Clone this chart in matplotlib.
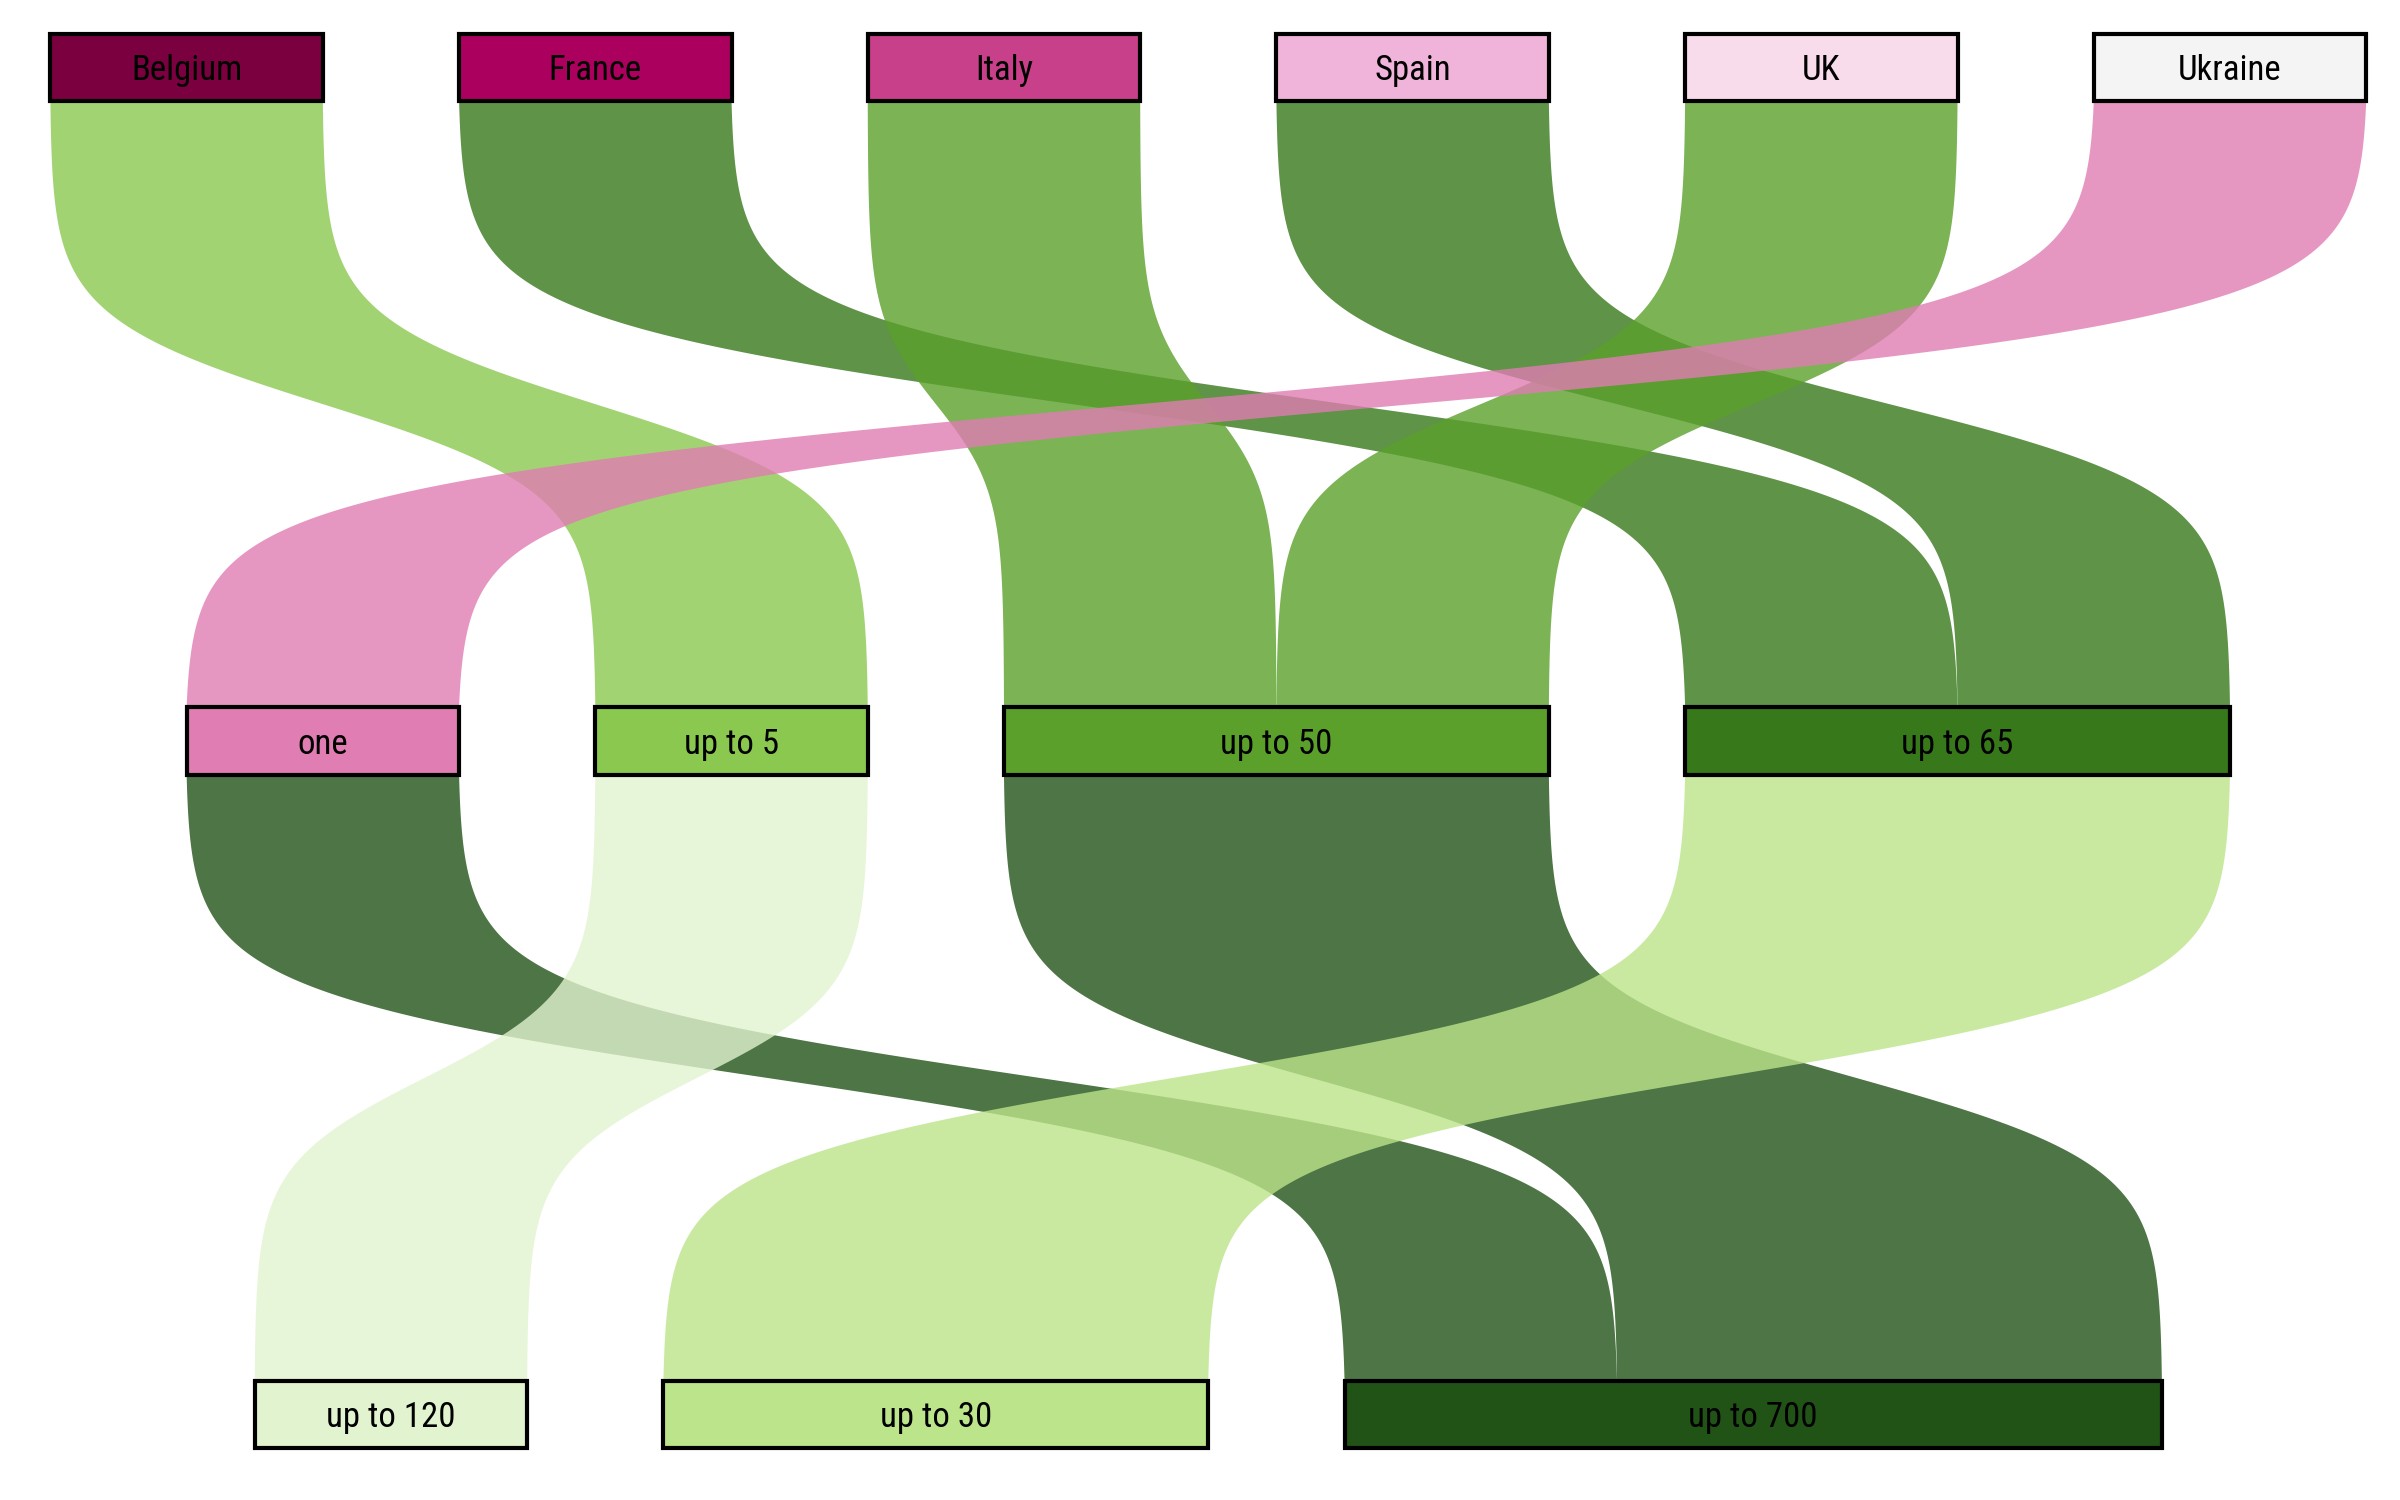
import numpy as np
import matplotlib
matplotlib.use("Agg")
import matplotlib.pyplot as plt
from matplotlib import font_manager
from matplotlib.patches import Rectangle, Polygon

# pick a condensed face if one is installed, plain Roboto otherwise
fonts = font_manager.fontManager.ttflist
if any(f.name == 'Roboto Condensed' for f in fonts):
    label_font = dict(family=['Roboto Condensed', 'DejaVu Sans'], fontsize=25)
elif any(f.name == 'Roboto' and 'condensed' in str(f.stretch) for f in fonts):
    label_font = dict(family=['Roboto', 'DejaVu Sans'], fontstretch='condensed', fontsize=25)
else:
    label_font = dict(family=['Roboto', 'DejaVu Sans'], fontsize=23)

# --- data: one row per country ---
countries = ['Belgium', 'France', 'Italy', 'Spain', 'UK', 'Ukraine']
size_class = ['up to 5', 'up to 65', 'up to 50', 'up to 65', 'up to 50', 'one']
group = ['up to 120', 'up to 30', 'up to 700', 'up to 30', 'up to 700', 'up to 700']

level_nodes = [
    ['Belgium', 'France', 'Italy', 'Spain', 'UK', 'Ukraine'],
    ['one', 'up to 5', 'up to 50', 'up to 65'],
    ['up to 120', 'up to 30', 'up to 700'],
]
columns = [countries, size_class, group]

node_colors = {
    'Belgium': '#7a0040', 'France': '#ac005f', 'Italy': '#c83f8a',
    'Spain': '#f0b3d9', 'UK': '#f9dcec', 'Ukraine': '#f4f4f4',
    'one': '#e07db2', 'up to 5': '#8bc84f', 'up to 50': '#5aa02b',
    'up to 65': '#37781a',
    'up to 120': '#e2f3cf', 'up to 30': '#bce48a', 'up to 700': '#215216',
}

GAP = 0.5        # gap between nodes, in flow units
BOX_H = 0.1      # box height, in level units
STEEP = 14       # steepness of the sigmoid ribbons
ALPHA = 0.8

fig = plt.figure(figsize=(24, 15), dpi=100)
ax = fig.add_axes([0, 0, 1, 1])
ax.axis('off')

# --- node layout: width = count, levels centred on the widest one ---
widths = []
for lev, nodes in enumerate(level_nodes):
    widths.append({n: columns[lev].count(n) for n in nodes})
totals = [sum(w.values()) + GAP * (len(w) - 1) for w in widths]
center = max(totals) / 2

pos = []
for lev, nodes in enumerate(level_nodes):
    x = center - totals[lev] / 2
    p = {}
    for n in nodes:
        p[n] = x
        x += widths[lev][n] + GAP
    pos.append(p)

# normalised logistic curve, 0 -> 1
f = np.linspace(0, 1, 400)
sig = 1 / (1 + np.exp(-STEEP * (f - 0.5)))
sig = (sig - sig[0]) / (sig[-1] - sig[0])

# --- ribbons between consecutive levels ---
for lev in range(len(level_nodes) - 1):
    src_nodes, dst_nodes = level_nodes[lev], level_nodes[lev + 1]
    flows = {}
    for a, b in zip(columns[lev], columns[lev + 1]):
        flows[(a, b)] = flows.get((a, b), 0) + 1
    keys = sorted(flows, key=lambda k: (src_nodes.index(k[0]), dst_nodes.index(k[1])))
    src_off = {n: pos[lev][n] for n in src_nodes}
    # incoming order: by source position
    in_keys = sorted(flows, key=lambda k: (dst_nodes.index(k[1]), src_nodes.index(k[0])))
    dst_start = {}
    dst_off = {n: pos[lev + 1][n] for n in dst_nodes}
    for k in in_keys:
        dst_start[k] = dst_off[k[1]]
        dst_off[k[1]] += flows[k]
    y0, y1 = lev + BOX_H, lev + 1
    yy = y0 + (y1 - y0) * f
    for k in keys:
        v = flows[k]
        xs = src_off[k[0]]
        src_off[k[0]] += v
        xt = dst_start[k]
        xl = xs + (xt - xs) * sig
        left = np.column_stack([xl, yy])
        right = np.column_stack([xl + v, yy])
        poly = np.vstack([left, right[::-1]])
        ax.add_patch(Polygon(poly, closed=True, facecolor=node_colors[k[1]],
                             edgecolor='none', alpha=ALPHA, zorder=1))

# --- node boxes and labels ---
for lev, nodes in enumerate(level_nodes):
    for n in nodes:
        x, w = pos[lev][n], widths[lev][n]
        ax.add_patch(Rectangle((x, lev), w, BOX_H, facecolor=node_colors[n],
                               edgecolor='black', linewidth=3, zorder=3))
        ax.text(x + w / 2, lev + BOX_H / 2, n, ha='center', va='center_baseline',
                color='black', zorder=4, **label_font)

ax.set_xlim(-0.185, 8.624)
ax.set_ylim(2.177, -0.05)

fig.savefig('out.png', dpi=100)
